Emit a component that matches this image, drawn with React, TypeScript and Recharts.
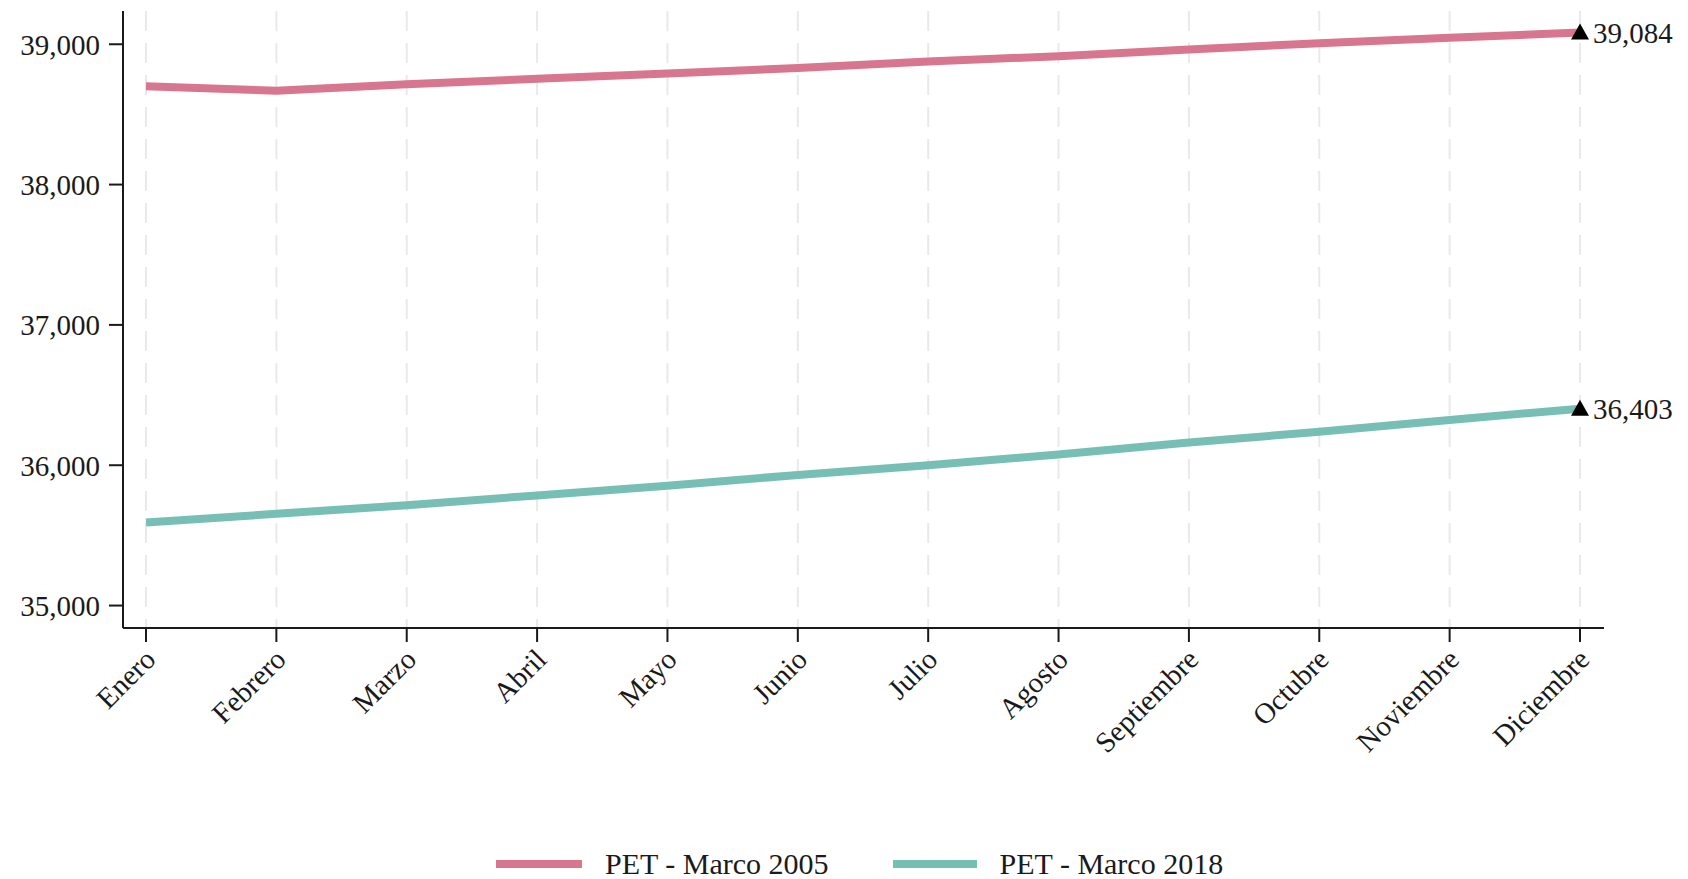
import React from 'react'
import { LineChart, Line, XAxis, YAxis, CartesianGrid, Legend } from 'recharts'

const months = ['Enero', 'Febrero', 'Marzo', 'Abril', 'Mayo', 'Junio', 'Julio', 'Agosto', 'Septiembre', 'Octubre', 'Noviembre', 'Diciembre']
const pet2005 = [38700, 38669, 38715, 38754, 38792, 38831, 38877, 38915, 38962, 39008, 39046, 39084]
const pet2018 = [35592, 35654, 35715, 35785, 35854, 35931, 36000, 36077, 36162, 36238, 36323, 36403]
const yTicks = [35000, 36000, 37000, 38000, 39000]

const PINK = '#d8768f'
const TEAL = '#77bfb5'
const INK = '#1a1a1a'
const FONT = '"Liberation Serif", "DejaVu Serif", serif'

const data = months.map((m, i) => ({ month: m, pet2005: pet2005[i], pet2018: pet2018[i] }))

const fmt = (v: number) => v.toLocaleString('en-US')

const XTick = ({ x, y, payload }: any) => (
  <g transform={`translate(${x},${y})`}>
    <text x={4} y={10} dy="0.35em" textAnchor="end" transform="rotate(-45, 4, 10)"
      fontSize={29} fill={INK} fontFamily={FONT}>
      {payload.value}
    </text>
  </g>
)

// triangle marker on the last month only
const lastDot = (props: any) => {
  const { cx, cy, index } = props
  if (index !== months.length - 1) return <g key={`d${index}`} />
  return <polygon key={`d${index}`} points={`${cx - 9},${cy + 7} ${cx + 9},${cy + 7} ${cx},${cy - 9}`} fill="#000" />
}

const lastLabel = (props: any) => {
  const { x, y, index, value } = props
  if (index !== months.length - 1) return null
  return (
    <text x={x + 13} y={y} dy="0.35em" fontSize={29} fill={INK} fontFamily={FONT}>
      {fmt(value)}
    </text>
  )
}

const LegendBox = () => (
  <div style={{ display: 'flex', alignItems: 'center', height: 30, paddingLeft: 496, fontFamily: FONT, fontSize: 30, color: INK, lineHeight: '30px' }}>
    <div style={{ width: 86, height: 8, background: PINK, marginRight: 23 }} />
    <span style={{ marginRight: 64 }}>PET - Marco 2005</span>
    <div style={{ width: 84, height: 8, background: TEAL, marginRight: 23 }} />
    <span>PET - Marco 2018</span>
  </div>
)

export default function App() {
  return (
    <div style={{ position: 'absolute', left: 0, top: 0, width: 1688, height: 879, background: '#fff', fontFamily: FONT }}>
      <LineChart width={1688} height={879} data={data} margin={{ top: 11, right: 84, bottom: 0, left: 0 }}>
        <CartesianGrid vertical horizontal={false} syncWithTicks stroke="#e9e9e9" strokeWidth={2} strokeDasharray="20 12" />
        <XAxis
          dataKey="month"
          interval={0}
          height={221}
          padding={{ left: 23, right: 24 }}
          tick={<XTick />}
          tickSize={14}
          axisLine={{ stroke: INK, strokeWidth: 2 }}
          tickLine={{ stroke: INK, strokeWidth: 2 }}
        />
        <YAxis
          width={123}
          domain={[34840, 39237]}
          ticks={yTicks}
          tickFormatter={fmt}
          tickSize={14}
          tickMargin={9}
          tick={{ fontSize: 29, fill: INK, fontFamily: FONT }}
          axisLine={{ stroke: INK, strokeWidth: 2 }}
          tickLine={{ stroke: INK, strokeWidth: 2 }}
        />
        <Legend verticalAlign="bottom" content={<LegendBox />} wrapperStyle={{ left: 0, width: 1688, bottom: 0 }} />
        <Line type="linear" dataKey="pet2005" name="PET - Marco 2005" stroke={PINK} strokeWidth={8}
          dot={lastDot} activeDot={false} label={lastLabel} isAnimationActive={false} />
        <Line type="linear" dataKey="pet2018" name="PET - Marco 2018" stroke={TEAL} strokeWidth={8}
          dot={lastDot} activeDot={false} label={lastLabel} isAnimationActive={false} />
      </LineChart>
    </div>
  )
}
